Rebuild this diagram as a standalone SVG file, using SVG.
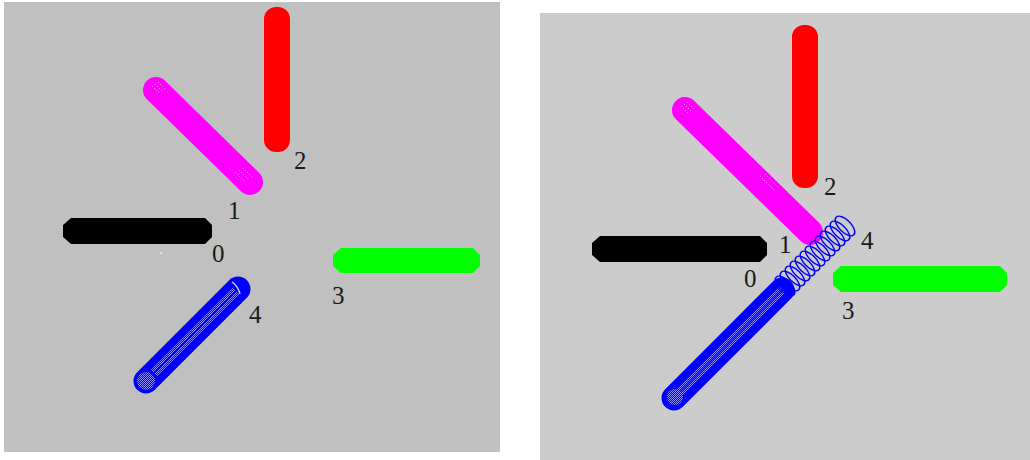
<svg xmlns="http://www.w3.org/2000/svg" width="1030" height="460" viewBox="0 0 1030 460">
<style>
.lbl{font-family:"Liberation Serif","Times New Roman",serif;font-size:25px;fill:#1a1a1a}
.blk{fill:#000000}
.grn{fill:#00ff00}
.red{fill:#ff0000}
.mag{stroke:#ff00ff;stroke-width:26;stroke-linecap:round;fill:none}
.blu{stroke:#0000ff;stroke-width:25;stroke-linecap:round;fill:none}
.pdot{stroke:#ffa8ff;stroke-width:1;stroke-dasharray:1 2;fill:none}
.stripe{stroke:url(#checker);stroke-width:9;fill:none}
.core{stroke:#0000ff;stroke-width:1.5;fill:none}
.ring{fill:none;stroke:#0000ff;stroke-width:1.4}
</style>
<defs>
<pattern id="checker" width="2" height="2" patternUnits="userSpaceOnUse">
<rect width="2" height="2" fill="#0000ff"/>
<rect width="1" height="1" fill="#8c8cff"/>
<rect x="1" y="1" width="1" height="1" fill="#8c8cff"/>
</pattern>
</defs>
<rect width="1030" height="460" fill="#ffffff"/>
<rect id="panel-left" x="4" y="2" width="496" height="450" fill="#c0c0c0"/>
<rect id="panel-right" x="540" y="13" width="490" height="447" fill="#cccccc"/>

<!-- Left panel -->
<g id="L-bar0">
<polygon class="blk" points="71,218 205,218 212,225 212,237 205,244 71,244 63,237 63,225"/>
<rect x="160.5" y="252.5" width="1.5" height="1.5" fill="#ffffff"/>
<text class="lbl" x="212" y="262">0</text>
</g>
<g id="L-bar1">
<line class="mag" x1="156" y1="90" x2="250" y2="182"/>
<path class="pdot" d="M152,86 l8,8 M155,84 l8,8 M158,82 l8,8 M235,172 l10,10 M239,170 l10,10 M243,168 l10,10"/>
<text class="lbl" x="228" y="219">1</text>
</g>
<g id="L-bar2">
<rect class="red" x="264" y="7" width="26" height="145" rx="12" ry="12"/>
<text class="lbl" x="294" y="169">2</text>
</g>
<g id="L-bar3">
<polygon class="grn" points="341,248 473,248 480,255 480,266 473,273 341,273 333,266 333,255"/>
<text class="lbl" x="332" y="304">3</text>
</g>
<g id="L-bar4">
<line class="blu" x1="238" y1="289" x2="146" y2="381"/>
<line class="stripe" x1="236" y1="291" x2="154" y2="373"/>
<line class="core" x1="236" y1="291" x2="154" y2="373"/>
<circle cx="146" cy="381" r="9" fill="url(#checker)"/>
<path d="M232,282 q6,4 8,12" fill="none" stroke="#c8c8ff" stroke-width="1.5"/>
<text class="lbl" x="249" y="323">4</text>
</g>

<!-- Right panel -->
<g id="R-bar0">
<polygon class="blk" points="600,236 760,236 767,243 767,255 760,262 600,262 592,255 592,243"/>
<text class="lbl" x="744" y="287">0</text>
</g>
<g id="R-bar1">
<line class="mag" x1="685" y1="110" x2="810" y2="232"/>
<path class="pdot" d="M681,106 l8,8 M684,104 l8,8 M687,102 l8,8 M760,176 l14,14 M765,174 l14,14 M770,172 l14,14 M776,172 l10,10"/>
<text class="lbl" x="779" y="253">1</text>
</g>
<g id="R-bar2">
<rect class="red" x="792" y="25" width="26" height="163" rx="12" ry="12"/>
<text class="lbl" x="824" y="195">2</text>
</g>
<g id="R-bar3">
<polygon class="grn" points="841,266 1000,266 1007,273 1007,285 1000,292 841,292 833,285 833,273"/>
<text class="lbl" x="842" y="319">3</text>
</g>
<g id="R-bar4">
<line class="blu" x1="782" y1="290" x2="674" y2="398"/>
<line class="stripe" x1="782" y1="290" x2="680" y2="392"/>
<line class="core" x1="782" y1="290" x2="680" y2="392"/>
<circle cx="675" cy="397" r="8" fill="url(#checker)"/>
<g>
<ellipse class="ring" cx="845" cy="226" rx="6" ry="12.5" transform="rotate(-45 845 226)"/>
<ellipse class="ring" cx="840" cy="231" rx="6" ry="12.5" transform="rotate(-45 840 231)"/>
<ellipse class="ring" cx="835" cy="236" rx="6" ry="12.5" transform="rotate(-45 835 236)"/>
<ellipse class="ring" cx="830" cy="241" rx="6" ry="12.5" transform="rotate(-45 830 241)"/>
<ellipse class="ring" cx="825" cy="246" rx="6" ry="12.5" transform="rotate(-45 825 246)"/>
<ellipse class="ring" cx="820" cy="251" rx="6" ry="12.5" transform="rotate(-45 820 251)"/>
<ellipse class="ring" cx="815" cy="256" rx="6" ry="12.5" transform="rotate(-45 815 256)"/>
<ellipse class="ring" cx="810" cy="261" rx="6" ry="12.5" transform="rotate(-45 810 261)"/>
<ellipse class="ring" cx="805" cy="266" rx="6" ry="12.5" transform="rotate(-45 805 266)"/>
<ellipse class="ring" cx="800" cy="271" rx="6" ry="12.5" transform="rotate(-45 800 271)"/>
<ellipse class="ring" cx="795" cy="276" rx="6" ry="12.5" transform="rotate(-45 795 276)"/>
<ellipse class="ring" cx="790" cy="281" rx="6" ry="12.5" transform="rotate(-45 790 281)"/>
<ellipse class="ring" cx="785" cy="286" rx="6" ry="12.5" transform="rotate(-45 785 286)"/>
</g>
<text class="lbl" x="861" y="249">4</text>
</g>
</svg>
